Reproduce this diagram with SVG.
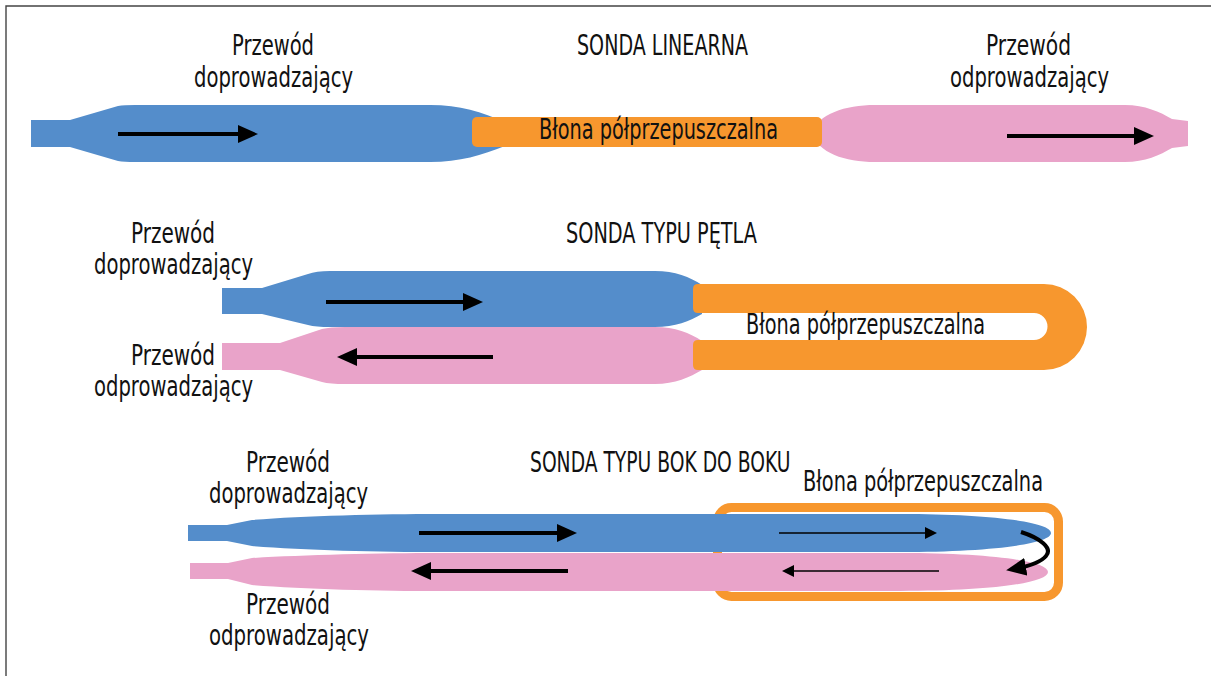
<svg xmlns="http://www.w3.org/2000/svg" width="1211" height="676" viewBox="0 0 1211 676">
<style>
  text { font-family: "DejaVu Sans Condensed", "Liberation Sans", Arial, sans-serif; font-size: 28px; fill: #111; }
  .blue { fill: #548DCB; }
  .pink { fill: #E9A3C9; }
  .orange { fill: #F7972E; }
  .arrow { stroke: #000; stroke-width: 4; fill: none; }
  .thin { stroke: #000; stroke-width: 1.5; fill: none; }
  .frame { stroke: #444; stroke-width: 1.4; fill: none; }
</style>
<defs>
  <marker id="headThick" markerUnits="userSpaceOnUse" markerWidth="20" markerHeight="18" refX="10" refY="9" orient="auto">
    <path d="M0,0 L20,9 L0,18 Z" fill="#000"/>
  </marker>
  <marker id="headThin" markerUnits="userSpaceOnUse" markerWidth="12" markerHeight="12" refX="6" refY="6" orient="auto">
    <path d="M0,0 L12,6 L0,12 Z" fill="#000"/>
  </marker>
</defs>
<rect x="0" y="0" width="1211" height="676" fill="#fff"/>
<path class="frame" d="M6,676 V6 H1211"/>

<!-- Row 1: linear probe -->
<g id="linear-inlet">
  <path class="blue" d="M31,120 H70 L118,106 Q124,105 135,105 H430 C460,105 482,112 505,122 V146 C482,155 460,162 430,162 H135 Q124,162 118,161 L70,147 H31 Z"/>
  <text x="232" y="55" textLength="82" lengthAdjust="spacingAndGlyphs">Przewód</text>
  <text x="194" y="87" textLength="159" lengthAdjust="spacingAndGlyphs">doprowadzający</text>
</g>
<g id="linear-outlet">
  <path class="pink" d="M812,133 C818,114 845,105 875,105 H1125 C1145,105 1160,112 1172,119 L1188,121 V146 L1172,148 C1160,155 1145,162 1125,162 H875 C845,162 818,153 812,133 Z"/>
  <text x="986" y="55" textLength="85" lengthAdjust="spacingAndGlyphs">Przewód</text>
  <text x="950" y="87" textLength="159" lengthAdjust="spacingAndGlyphs">odprowadzający</text>
</g>
<g id="linear-membrane">
  <rect class="orange" x="472" y="117" width="350" height="30" rx="5"/>
  <text x="539" y="139" textLength="239" lengthAdjust="spacingAndGlyphs">Błona półprzepuszczalna</text>
</g>
<g id="linear-title">
  <text x="577" y="55" textLength="171" lengthAdjust="spacingAndGlyphs">SONDA LINEARNA</text>
</g>

<!-- Row 2: loop probe -->
<g id="loop-inlet">
  <path class="blue" d="M222,288 H262 L308,274 Q316,271 330,271 H655 C675,271 690,277 702,285 V314 C690,321 675,327 655,327 H330 Q316,327 308,325 L262,314 H222 Z"/>
  <text x="131" y="243" textLength="84" lengthAdjust="spacingAndGlyphs">Przewód</text>
  <text x="94" y="274" textLength="159" lengthAdjust="spacingAndGlyphs">doprowadzający</text>
</g>
<g id="loop-outlet">
  <path class="pink" d="M222,343 H280 L322,329 Q330,327 345,327 H655 C675,327 690,333 702,341 V370 C690,377 675,384 655,384 H345 Q330,384 322,382 L280,370 H222 Z"/>
  <text x="131" y="365" textLength="84" lengthAdjust="spacingAndGlyphs">Przewód</text>
  <text x="94" y="396" textLength="159" lengthAdjust="spacingAndGlyphs">odprowadzający</text>
</g>
<g id="loop-membrane">
  <path class="orange" d="M698,284 H1044 A43,43 0 0 1 1044,370 H698 Q693,370 693,365 V345 Q693,340 698,340 H1034 A13.5,13.5 0 0 0 1034,313 H698 Q693,313 693,308 V289 Q693,284 698,284 Z"/>
  <text x="746" y="334" textLength="239" lengthAdjust="spacingAndGlyphs">Błona półprzepuszczalna</text>
</g>
<g id="loop-title">
  <text x="566" y="243" textLength="191" lengthAdjust="spacingAndGlyphs">SONDA TYPU PĘTLA</text>
</g>

<!-- Row 3: side-by-side probe -->
<g id="side-membrane">
  <rect x="717.5" y="507.5" width="341" height="89" rx="14" fill="none" stroke="#F7972E" stroke-width="9"/>
  <text x="803" y="491" textLength="240" lengthAdjust="spacingAndGlyphs">Błona półprzepuszczalna</text>
</g>
<g id="side-inlet">
  <path class="blue" d="M188,525 H227 L252,520 C300,516 380,514 440,514 H900 C990,514 1051,522 1051,533 C1051,544 990,552 900,552 H440 C380,552 300,550 252,546 L227,541 H188 Z"/>
  <text x="246" y="472" textLength="84" lengthAdjust="spacingAndGlyphs">Przewód</text>
  <text x="209" y="503" textLength="159" lengthAdjust="spacingAndGlyphs">doprowadzający</text>
</g>
<g id="side-outlet">
  <path class="pink" d="M190,563 H228 L252,558 C300,555 380,553 440,553 H900 C990,553 1048,561 1048,572 C1048,583 990,591 900,591 H440 C380,591 300,589 252,585 L228,579 H190 Z"/>
  <text x="246" y="614" textLength="84" lengthAdjust="spacingAndGlyphs">Przewód</text>
  <text x="209" y="645" textLength="160" lengthAdjust="spacingAndGlyphs">odprowadzający</text>
</g>
<g id="side-title">
  <text transform="translate(530,472) scale(0.84,1)" x="0" y="0" textLength="310" lengthAdjust="spacingAndGlyphs">SONDA TYPU BOK DO BOKU</text>
</g>

<!-- Connectors: flow arrows -->
<g id="connectors">
  <line class="arrow" x1="118" y1="134" x2="248" y2="134" marker-end="url(#headThick)"/>
  <line class="arrow" x1="1007" y1="136" x2="1144" y2="136" marker-end="url(#headThick)"/>
  <line class="arrow" x1="326" y1="302" x2="473" y2="302" marker-end="url(#headThick)"/>
  <line class="arrow" x1="493" y1="357" x2="347" y2="357" marker-end="url(#headThick)"/>
  <line class="arrow" x1="419" y1="533" x2="567" y2="533" marker-end="url(#headThick)"/>
  <line class="arrow" x1="568" y1="571" x2="421" y2="571" marker-end="url(#headThick)"/>
  <line class="thin" x1="779" y1="533" x2="931" y2="533" marker-end="url(#headThin)"/>
  <line class="thin" x1="939" y1="571" x2="788" y2="571" marker-end="url(#headThin)"/>
  <path class="arrow" d="M1021,532 C1040,538 1053,548 1046,556 C1040,563 1030,566 1016,568.5" marker-end="url(#headThick)"/>
</g>
</svg>
